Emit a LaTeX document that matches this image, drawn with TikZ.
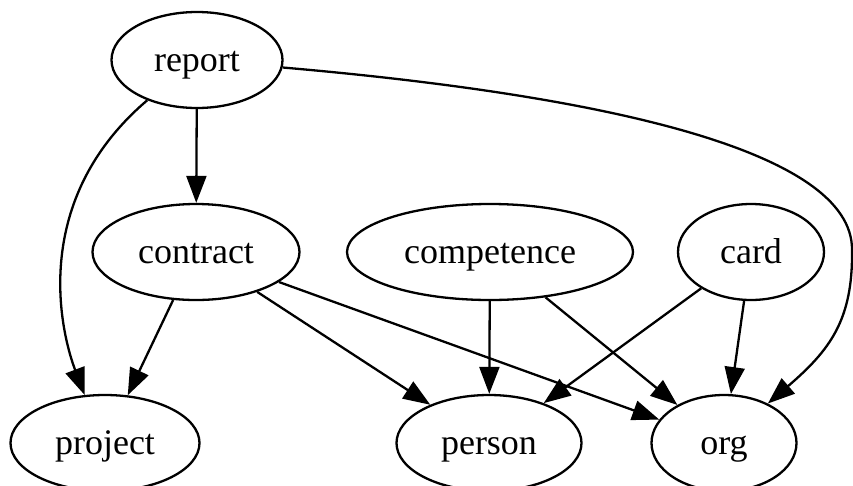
\documentclass[tikz,border=0pt]{standalone}
\usepackage{fontspec}
\setmainfont{Liberation Serif}
\usetikzlibrary{shapes.geometric,arrows.meta}
\tikzset{
entity/.style={
	  draw, ellipse, line width=2.3pt, inner sep=0pt,
	    minimum height=96pt, text height=26pt, text depth=4pt,
	    font=\fontsize{36}{40}\selectfont},
dep/.style={line width=2.3pt, -{Triangle[length=27pt,width=20pt]}}
}

\begin{document}
\begin{tikzpicture}[x=1pt, y=-1pt]
	\useasboundingbox (0,0) rectangle (853,485);
	\node[entity, minimum width=171pt] (report) at (197,60) {report};
	\node[entity, minimum width=207pt] (contract) at (196,252) {contract};
	\node[entity, minimum width=286pt] (competence) at (490,252) {competence};
	\node[entity, minimum width=146pt] (card) at (751,252) {card};
	\node[entity, minimum width=189pt] (project) at (105,443) {project};
	\node[entity, minimum width=185pt] (person) at (489,443) {person};
	\node[entity, minimum width=145pt] (org) at (724,443) {org};
	\draw[dep] (report) -- (contract);
	\draw[dep] (report.219) .. controls (30,200) and (60,330) .. (project.113);
	\draw[dep] (report.-5) .. controls (600,95) and (853,150) .. (852,250)
		.. controls (853,320) and (830,350) .. (org.42);
	\draw[dep] (contract) -- (project);
	\draw[dep] (contract) -- (person);
	\draw[dep] (contract) -- (org);
	\draw[dep] (competence) -- (person);
	\draw[dep] (competence) -- (org);
	\draw[dep] (card) -- (person);
	\draw[dep] (card) -- (org);
\end{tikzpicture}
\end{document}
